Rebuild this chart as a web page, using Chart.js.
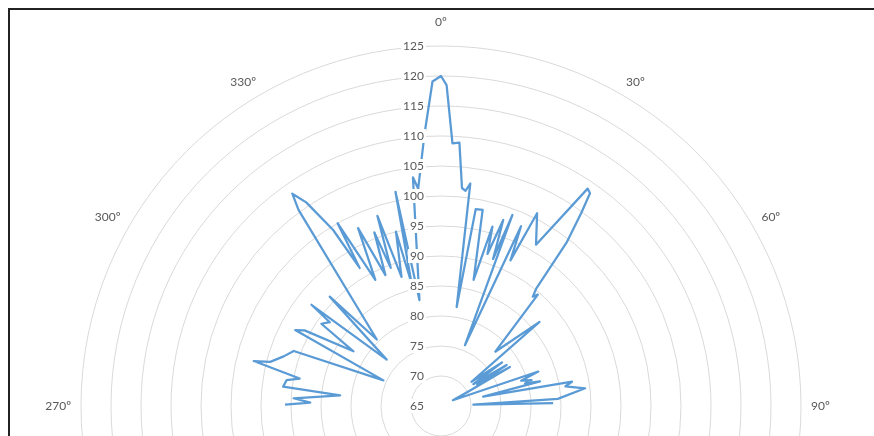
<!DOCTYPE html>
<html>
<head>
<meta charset="utf-8">
<script src="https://cdn.jsdelivr.net/npm/chart.js@4.4.1/dist/chart.umd.min.js"></script>
<style>
  html, body { margin: 0; padding: 0; background: #fff; overflow: hidden; }
  #wrap { position: relative; width: 874px; height: 436px; overflow: hidden; }
  #frame { position: absolute; left: 8px; top: 8px; right: -10px; bottom: -10px;
           border-top: 2px solid #222; border-left: 2px solid #222; }
  canvas { position: absolute; left: 0; top: 0; }
</style>
</head>
<body>
<div id="wrap">
  <canvas id="radar" width="874" height="812"></canvas>
  <div id="frame"></div>
</div>
<script>
// one category every half degree, starting at 270º and going clockwise
var STEP = 0.5;
var categories = [];
for (var i = 0; i < 360 / STEP; i++) {
  categories.push(((270 + i * STEP) % 360) + "º");
}

// readings west of north (negative = degrees counter-clockwise from 0º)
var westAngles = [-89.5, -88.5, -87, -84, -83, -80.5, -79, -76.5, -75.5, -72.5,
  -69.5, -66, -62.5, -61, -58, -55.5, -53, -52, -49.5, -45.5,
  -44, -36, -35, -33.5, -31.5, -30.5, -29.5, -27.5, -25, -23,
  -21, -20, -18.5, -17, -14.5, -13.5, -12, -11.5, -7, -6,
  -3.5, -1.5];
var westValues = [91, 86.8, 89.6, 81.9, 91.5, 91.1, 89, 97.1, 94.4, 92.5,
  91.2, 75.5, 92.4, 91, 82.2, 89.2, 88.2, 92.4, 76.9, 91,
  80.4, 105.4, 108.2, 105.7, 99.4, 91.7, 100, 88.7, 97.7, 88.7,
  96, 89.5, 98.4, 87.5, 95, 86, 101.5, 83, 103.4, 101.4,
  110.3, 119.1];

// readings east of north
var eastAngles = [0, 1, 2.5, 4, 5.5, 6.5, 7.5, 9, 10, 12,
  14.5, 16, 17, 18.5, 19.5, 20.5, 21.5, 24, 25.5, 26.5,
  30.5, 34, 35, 36, 37.5, 39, 40, 41, 45, 49.5,
  51.5, 54.5, 56, 58, 59.5, 60.5, 62, 64, 70.5, 72.5,
  74, 75, 76, 77.5, 79.5, 81, 83, 86.5, 87.5, 88.5];
var eastValues = [120, 118.5, 108.8, 109, 101.5, 101.1, 102.4, 81.7, 98.3, 98.4,
  86.7, 96.1, 91.5, 97.7, 91, 99, 75.9, 97.8, 91.9, 100.9,
  96.2, 108.7, 108.3, 104.8, 99.5, 90.3, 88.8, 89.6, 77.8, 86.6,
  71.5, 77.5, 71.5, 77.9, 72, 78.2, 70.5, 67.2, 82.2, 79,
  80.7, 79.5, 82, 72.2, 87.2, 86, 89.2, 84.5, 70.4, 83.7];

var directionLabels = ["270º", "300º", "330º", "0º", "30º", "60º", "90º"];
var directionAngles = [270, 300, 330, 0, 30, 60, 90];

var axisMin = 65;
var axisMax = 125;
var axisStep = 5;

var series = categories.map(function () { return null; });
function place(angles, values) {
  angles.forEach(function (a, k) {
    series[Math.round((a + 90) / STEP)] = values[k];
  });
}
place(westAngles, westValues);
place(eastAngles, eastValues);

// the readings only cover the upper half, so the path must not close on itself
var openPath = {
  id: "openPath",
  afterDatasetUpdate: function (chart, args) {
    var line = args.meta.dataset;
    line._loop = false;
    delete line._segments;
    delete line._path;
  }
};

// Excel style labels: values left of the axis on a white backdrop, directions outside the rings
var excelLabels = {
  id: "excelLabels",
  afterDatasetsDraw: function (chart) {
    var scale = chart.scales.r;
    var ctx = chart.ctx;
    ctx.save();
    ctx.font = "12px Lato, 'Open Sans', sans-serif";
    ctx.textBaseline = "middle";

    ctx.textAlign = "right";
    scale.ticks.forEach(function (tick) {
      var y = scale.yCenter - scale.getDistanceFromCenterForValue(tick.value);
      var x = scale.xCenter - 17;
      var text = String(tick.value);
      var w = ctx.measureText(text).width;
      ctx.fillStyle = "#ffffff";
      ctx.fillRect(x - w - 2, y - 7, w + 4, 14);
      ctx.fillStyle = "#595959";
      ctx.fillText(text, x, y);
    });

    directionAngles.forEach(function (deg, k) {
      var idx = ((deg - 270 + 360) % 360) / STEP;
      var p = scale.getPointPosition(idx, scale.drawingArea + 10);
      var theta = p.angle + Math.PI / 2;
      var s = Math.sin(theta);
      var c = Math.cos(theta);
      ctx.textAlign = s > 0.2 ? "left" : (s < -0.2 ? "right" : "center");
      var dy = c > 0.95 ? -14 : (c > 0.3 ? -3.5 : 0);
      ctx.fillStyle = "#595959";
      ctx.fillText(directionLabels[k], p.x, p.y + dy);
    });
    ctx.restore();
  }
};

var ctx = document.getElementById("radar").getContext("2d");
var myChart = new Chart(ctx, {
  type: "radar",
  data: {
    labels: categories,
    datasets: [
      {
        label: "Level",
        data: series,
        borderColor: "#5B9BD5",
        backgroundColor: "#5B9BD5",
        borderWidth: 2.25,
        borderJoinStyle: "round",
        pointRadius: 0,
        pointHoverRadius: 0,
        fill: false,
        spanGaps: true,
      },
    ],
  },
  options: {
    responsive: false,
    animation: false,
    devicePixelRatio: 1,
    layout: {
      padding: { left: 81, right: 73, top: 46, bottom: 46 },
    },
    plugins: {
      legend: { display: false },
      tooltip: { enabled: false },
    },
    scales: {
      r: {
        min: axisMin,
        max: axisMax,
        startAngle: 270,
        ticks: { stepSize: axisStep, display: false },
        pointLabels: { display: false },
        angleLines: { display: false },
        grid: { circular: true, color: "#d9d9d9", lineWidth: 1 },
      },
    },
  },
  plugins: [openPath, excelLabels],
});
</script>
</body>
</html>
